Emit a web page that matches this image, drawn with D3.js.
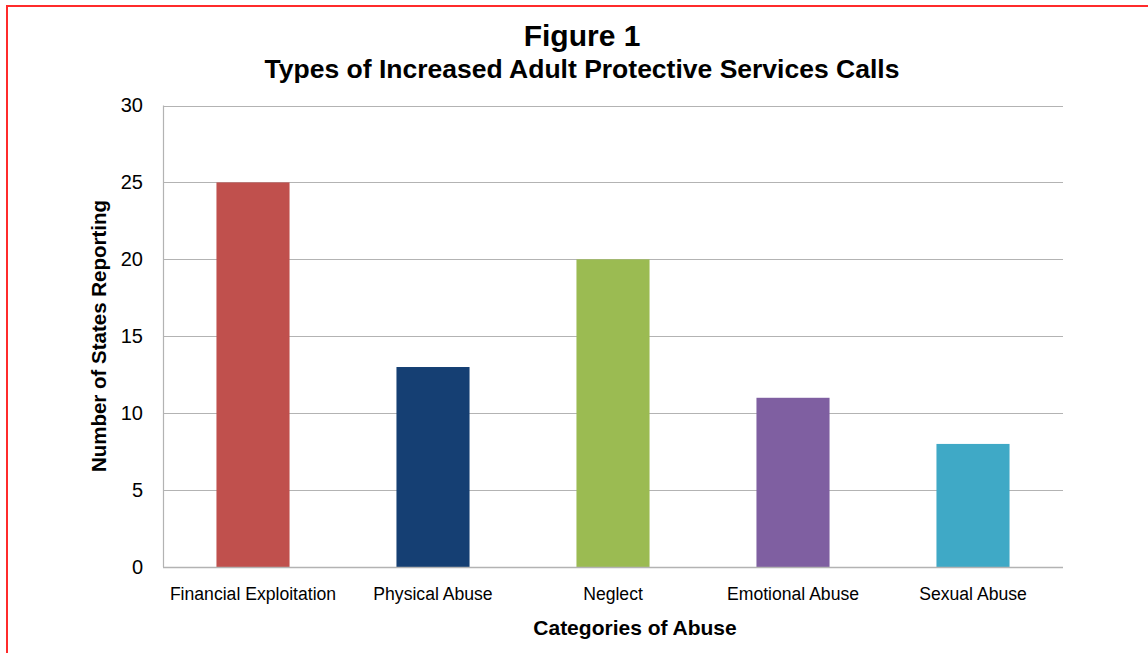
<!DOCTYPE html>
<html>
<head>
<meta charset="utf-8">
<script src="https://cdn.jsdelivr.net/npm/d3@7"></script>
<style>
html,body{margin:0;padding:0;background:#fff;}
svg{display:block;font-family:"Liberation Sans",Arial,sans-serif;}
</style>
</head>
<body>
<svg id="chart" width="1148" height="653"></svg>
<script>
const categories = ["Financial Exploitation","Physical Abuse","Neglect","Emotional Abuse","Sexual Abuse"];
const values = [25, 13, 20, 11, 8];
const colors = ["#c0504d","#153f73","#9bbb52","#7f5fa1","#3fa9c6"];
const yTicks = [0,5,10,15,20,25,30];
const titleText = "Figure 1";
const subtitleText = "Types of Increased Adult Protective Services Calls";
const xTitle = "Categories of Abuse";
const yTitle = "Number of States Reporting";

const svg = d3.select("#chart");
const m = {left:163, right:1063, top:105.5, bottom:567};

svg.append("rect").attr("x",7).attr("y",6).attr("width",1160).attr("height",700)
  .attr("fill","none").attr("stroke","#ff2b2b").attr("stroke-width",2);

const x = d3.scaleBand().domain(categories).range([m.left,m.right]).paddingInner(0.594).paddingOuter(0.297);
const y = d3.scaleLinear().domain([0,30]).range([m.bottom,m.top]);

// gridlines
svg.append("g").selectAll("line").data(yTicks).join("line")
  .attr("x1",m.left).attr("x2",m.right)
  .attr("y1",d=>Math.round(y(d))+0.5).attr("y2",d=>Math.round(y(d))+0.5)
  .attr("stroke","#b3b3b3").attr("stroke-width",1.2);

// y axis line
svg.append("line").attr("x1",m.left+0.5).attr("x2",m.left+0.5).attr("y1",m.top).attr("y2",m.bottom)
  .attr("stroke","#b3b3b3").attr("stroke-width",1.2);

// bars
svg.append("g").selectAll("rect").data(values).join("rect")
  .attr("x",(d,i)=>x(categories[i]))
  .attr("width",x.bandwidth())
  .attr("y",d=>y(d))
  .attr("height",d=>y(0)-y(d))
  .attr("fill",(d,i)=>colors[i]);

// baseline over bars
svg.append("line").attr("x1",m.left).attr("x2",m.right)
  .attr("y1",Math.round(y(0))+0.5).attr("y2",Math.round(y(0))+0.5)
  .attr("stroke","#b3b3b3").attr("stroke-width",1.5);

// y tick labels
const yAxis = d3.axisLeft(y).tickValues(yTicks).tickSize(0).tickPadding(20);
const gy = svg.append("g").attr("transform",`translate(${m.left},0)`).call(yAxis);
gy.select(".domain").remove();
gy.selectAll("text").attr("font-size","20px").attr("fill","#000").attr("font-family","Liberation Sans, Arial, sans-serif");

// x tick labels
const xAxis = d3.axisBottom(x).tickSize(0).tickPadding(21);
const gx = svg.append("g").attr("transform",`translate(0,${m.bottom})`).call(xAxis);
gx.select(".domain").remove();
gx.selectAll("text").attr("font-size","17.6px").attr("fill","#000").attr("font-family","Liberation Sans, Arial, sans-serif");

// titles
svg.append("text").attr("x",582).attr("y",46).attr("text-anchor","middle")
  .attr("font-size","30px").attr("font-weight","bold").text(titleText);
svg.append("text").attr("x",582).attr("y",78).attr("text-anchor","middle")
  .attr("font-size","26.5px").attr("font-weight","bold").text(subtitleText);
svg.append("text").attr("x",635).attr("y",635).attr("text-anchor","middle")
  .attr("font-size","21px").attr("font-weight","bold").text(xTitle);
svg.append("text").attr("transform","translate(106,336) rotate(-90)").attr("text-anchor","middle")
  .attr("font-size","20.5px").attr("font-weight","bold").text(yTitle);
</script>
</body>
</html>
